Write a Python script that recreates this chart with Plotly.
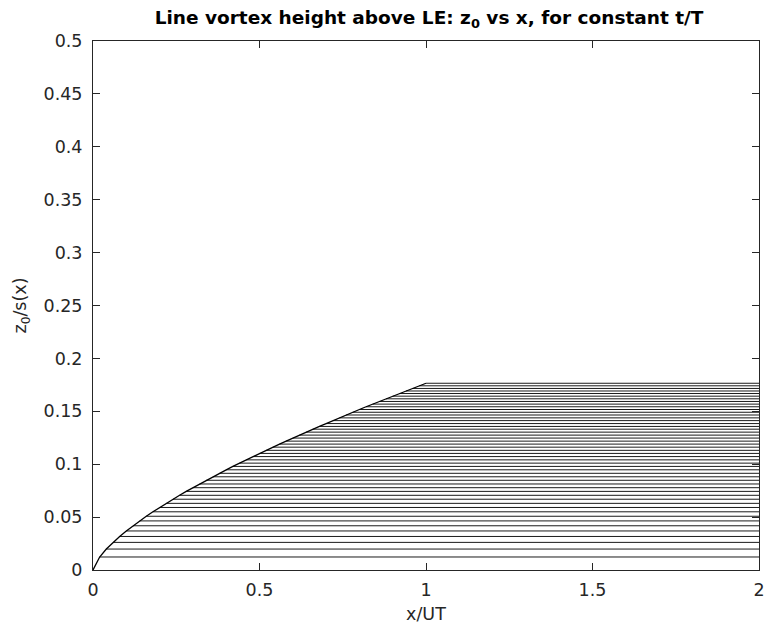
import plotly.graph_objects as go

# t/T values at which each constant-time line leaves the envelope curve
t_over_T = [0.02, 0.04, 0.06, 0.08, 0.10, 0.12, 0.14, 0.16, 0.18, 0.20,
            0.22, 0.24, 0.26, 0.28, 0.30, 0.32, 0.34, 0.36, 0.38, 0.40,
            0.42, 0.44, 0.46, 0.48, 0.50, 0.52, 0.54, 0.56, 0.58, 0.60,
            0.62, 0.64, 0.66, 0.68, 0.70, 0.72, 0.74, 0.76, 0.78, 0.80,
            0.82, 0.84, 0.86, 0.88, 0.90, 0.92, 0.94, 0.96, 0.98, 1.00]

# z0/s(x) height of each constant t/T line
z_heights = [0.0123, 0.0198, 0.0261, 0.0317, 0.0369, 0.0418, 0.0464, 0.0508, 0.0550, 0.0591,
             0.0630, 0.0669, 0.0706, 0.0743, 0.0778, 0.0813, 0.0848, 0.0881, 0.0914, 0.0947,
             0.0979, 0.1010, 0.1041, 0.1072, 0.1102, 0.1131, 0.1161, 0.1190, 0.1218, 0.1247,
             0.1275, 0.1303, 0.1331, 0.1357, 0.1384, 0.1412, 0.1438, 0.1465, 0.1491, 0.1517,
             0.1543, 0.1568, 0.1593, 0.1618, 0.1643, 0.1668, 0.1692, 0.1716, 0.1741, 0.1765]

x_end = 2.0
x_ticks = [0, 0.5, 1, 1.5, 2]
x_ticktext = ["0", "0.5", "1", "1.5", "2"]
y_ticks = [0, 0.05, 0.1, 0.15, 0.2, 0.25, 0.3, 0.35, 0.4, 0.45, 0.5]
y_ticktext = ["0", "0.05", "0.1", "0.15", "0.2", "0.25", "0.3", "0.35", "0.4", "0.45", "0.5"]

fig = go.Figure()

# horizontal constant-t/T lines
hx, hy = [], []
for xs, z in zip(t_over_T, z_heights):
    hx += [xs, x_end, None]
    hy += [z, z, None]
fig.add_trace(go.Scatter(x=hx, y=hy, mode="lines",
                         line=dict(color="black", width=0.9),
                         hoverinfo="skip", showlegend=False))

# envelope curve
fig.add_trace(go.Scatter(x=[0] + t_over_T, y=[0] + z_heights, mode="lines",
                         line=dict(color="black", width=1.3),
                         showlegend=False))

font_family = "DejaVu Sans, Liberation Sans, Arial, sans-serif"
axis_col = "#262626"

fig.update_layout(
    width=771, height=640,
    margin=dict(l=93, r=6, t=41, b=70),
    paper_bgcolor="white", plot_bgcolor="white",
    font=dict(family=font_family, size=17, color=axis_col),
    title=dict(text="<b>Line vortex height above LE: z<sub>0</sub> vs x, for constant t/T</b>",
               x=0.5565, xanchor="center", y=0.972, yanchor="middle",
               font=dict(family=font_family, size=18.5, color="black")),
)
fig.update_xaxes(range=[0, 2], tickvals=x_ticks, ticktext=x_ticktext,
                 showgrid=False, zeroline=False, showline=True, linecolor=axis_col, linewidth=1,
                 mirror="ticks", ticks="inside", ticklen=7, tickcolor=axis_col,
                 ticklabelstandoff=4,
                 title=dict(text="x/UT", standoff=8, font=dict(size=17.5)),
                 tickfont=dict(size=17.5))
fig.update_yaxes(range=[0, 0.5], tickvals=y_ticks, ticktext=y_ticktext,
                 showgrid=False, zeroline=False, showline=True, linecolor=axis_col, linewidth=1,
                 mirror="ticks", ticks="inside", ticklen=7, tickcolor=axis_col,
                 ticklabelstandoff=6,
                 title=dict(text="z<sub>0</sub>/s(x)", standoff=12, font=dict(size=17.5)),
                 tickfont=dict(size=17.5))

fig.write_html("out.html")
